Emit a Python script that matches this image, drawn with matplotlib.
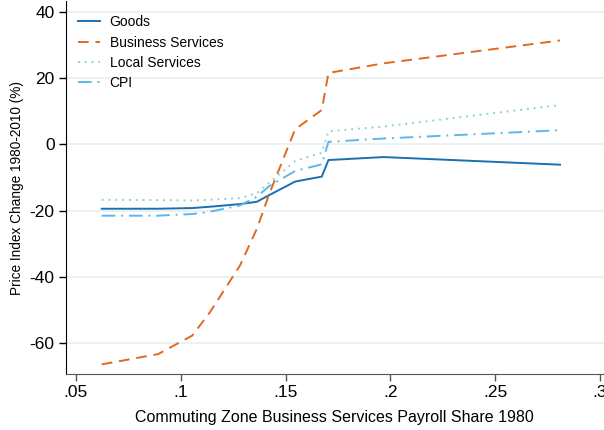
import matplotlib
matplotlib.use("Agg")
import matplotlib.pyplot as plt

plt.rcParams['font.family'] = ['Liberation Sans', 'DejaVu Sans']
plt.rcParams['axes.unicode_minus'] = False

# payroll share bins
share = [0.0623, 0.0892, 0.1055, 0.1140, 0.1283, 0.1363, 0.1422, 0.1546, 0.1673, 0.1705, 0.1968, 0.2810]

goods = [-19.4, -19.4, -19.2, -18.8, -18.0, -17.3, -15.3, -11.2, -9.7, -4.7, -3.8, -6.1]
business = [-66.4, -63.3, -57.7, -50.6, -36.5, -25.5, -15.0, 4.6, 10.4, 21.6, 24.5, 31.4]
local = [-16.7, -16.8, -16.9, -16.7, -16.2, -14.7, -11.6, -5.0, -2.5, 4.0, 5.4, 11.9]
cpi = [-21.5, -21.5, -21.0, -20.3, -18.4, -15.8, -12.6, -8.0, -6.0, 0.8, 1.8, 4.3]

xticks = [0.05, 0.1, 0.15, 0.2, 0.25, 0.3]
xticklabels = ['.05', '.1', '.15', '.2', '.25', '.3']
yticks = [-60, -40, -20, 0, 20, 40]

fig = plt.figure(figsize=(6.04, 4.30), dpi=100)
ax = fig.add_axes([0.1088, 0.1295, 0.8912, 0.868])

ax.plot(share, goods, color='#1a6fb0', lw=1.4, label='Goods')
ax.plot(share, business, color='#e0691c', lw=1.4, dashes=(5.5, 3.5), label='Business Services')
ax.plot(share, local, color='#8dd6c4', lw=1.4, dashes=(1, 2.5), label='Local Services')
ax.plot(share, cpi, color='#5cb8ec', lw=1.4, dashes=(7, 3, 1, 3), label='CPI')

ax.set_xlim(0.0451, 0.302)
ax.set_ylim(-69.4, 43.3)
ax.set_xticks(xticks)
ax.set_xticklabels(xticklabels)
ax.set_yticks(yticks)

ax.grid(axis='y', color='#e8f0f2', lw=1.2)
ax.set_axisbelow(True)
for s in ['top', 'right']:
    ax.spines[s].set_visible(False)
ax.spines['left'].set_color('black')
ax.spines['bottom'].set_color('#555555')
ax.tick_params(axis='both', length=5, width=1, labelsize=12.5, pad=3)
ax.tick_params(axis='x', colors='#555555', labelcolor='black')

ax.set_xlabel('Commuting Zone Business Services Payroll Share 1980', fontsize=11.5, labelpad=7)
ax.set_ylabel('Price Index Change 1980-2010 (%)', fontsize=9.8, labelpad=4)

ax.legend(loc='upper left', frameon=False, fontsize=10, handlelength=1.6,
          handletextpad=0.7, borderaxespad=0.3, labelspacing=0.45,
          bbox_to_anchor=(0.004, 0.988))

fig.savefig('out.png', dpi=100)
